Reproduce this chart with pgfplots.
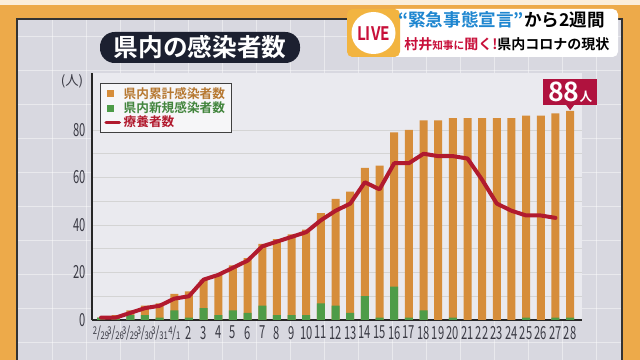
\documentclass[border=0pt]{standalone}
\usepackage{fontspec}
\setmainfont{Noto Sans CJK JP}[BoldFont={Noto Sans CJK JP Bold}]
\usepackage{graphicx}
\usepackage{pgfplots}
\usepackage{pgfplotstable}
\pgfplotsset{compat=1.18}
\definecolor{bgorange}{HTML}{EDAA4A}
\definecolor{panel}{HTML}{D8D8E0}
\definecolor{plotbg}{HTML}{EAEAEF}
\definecolor{barorange}{HTML}{D68D3A}
\definecolor{bargreen}{HTML}{4E9C48}
\definecolor{linered}{HTML}{B11A2E}
\definecolor{navy}{HTML}{1C2030}
\definecolor{crimson}{HTML}{B0123E}
\definecolor{quoteblue}{HTML}{1E86D0}
\definecolor{bannerred}{HTML}{C8103A}
\definecolor{livecap}{HTML}{F2B440}
\definecolor{ticktext}{HTML}{3A3A44}
\newcommand\cn[1]{\scalebox{0.62}[1]{\fontsize{13.5}{14}\selectfont #1}}
\newcommand\dt[2]{\scalebox{0.72}[1]{\raisebox{2.5pt}{\fontsize{8}{8}\selectfont #1}\kern-0.3pt{\fontsize{11}{11}\selectfont /}\kern-0.3pt\raisebox{-1.5pt}{\fontsize{8}{8}\selectfont #2}}}

\pgfplotstableread{
x cum new
0 1 1
1 2 1
2 4 2
3 6 2
4 7 1
5 11 4
6 12 1
7 17 5
8 19 2
9 23 4
10 26 3
11 32 6
12 34 2
13 36 2
14 38 2
15 45 7
16 51 6
17 54 3
18 64 10
19 65 1
20 79 14
21 80 1
22 84 4
23 84 0
24 85 1
25 85 0
26 85 0
27 85 0
28 85 0
29 86 1
30 86 0
31 87 1
32 88 1
}\cases

\pgfplotstableread{
x care
0 1
1 1
2 3
3 5
4 6
5 9
6 10
7 17
8 19
9 22
10 25
11 31
12 33
13 35
14 37
15 42
16 46
17 49
18 58
19 55
20 66
21 66
22 70
23 69
24 69
25 68
26 59
27 49
28 46
29 44
30 44
31 43
}\care

\begin{document}
\begin{tikzpicture}
\useasboundingbox (0,0) rectangle (480pt,-270pt);
\clip (0,0) rectangle (480pt,-270pt);
\begin{scope}[x=0.75pt,y=-0.75pt]
  \fill[bgorange] (0,0) rectangle (640,360);
  \fill[white!80!bgorange] (0,0) rectangle (640,5);
  \filldraw[fill=panel, draw=black!80, line width=1.5pt] (17,19) rectangle (622,370);
  \begin{scope}
    \clip (18,20) rectangle (621,369);
    \foreach \gx in {52,86,...,620} \draw[white, opacity=0.45, line width=0.5pt] (\gx,20) -- (\gx,369);
    \foreach \gy in {36,70,...,369} \draw[white, opacity=0.45, line width=0.5pt] (18,\gy) -- (621,\gy);
  \end{scope}
  % title
  \fill[navy, rounded corners=11pt] (100,32) rectangle (300,63);
  \node[white, font=\bfseries\fontsize{18.5}{20}\selectfont] at (200,47.5) {県内の感染者数};
  \node[ticktext, font=\fontsize{10}{10}\selectfont] at (72,81) {(人)};
  % banner
  \fill[white, rounded corners=4pt] (390,9) rectangle (618,57);
  \fill[livecap, rounded corners=4pt] (347,9) rectangle (400,57);
  \fill[white] (373.5,33) ellipse [x radius=22, y radius=21];
  \node[bannerred, font=\bfseries\fontsize{14}{14}\selectfont] at (373.5,34) {\scalebox{0.82}[1]{LIVE}};
  \node[anchor=west, inner sep=0pt, font=\bfseries\fontsize{13.2}{14}\selectfont] at (398,20) {\textcolor{quoteblue}{“緊急事態宣言”}から2週間};
  \node[anchor=west, inner sep=0pt, font=\bfseries\fontsize{10.5}{12}\selectfont] at (404,44) {\textcolor{bannerred}{村井{\fontsize{8}{9}\selectfont 知事に}聞く!}県内コロナの現状};
\end{scope}

\begin{axis}[
  at={(69pt,-240pt)}, anchor=south west,
  width=367.5pt, height=185.25pt, scale only axis,
  clip mode=individual,
  xmin=-0.614, xmax=32.81, ymin=0, ymax=104,
  axis background/.style={fill=plotbg},
  axis x line*=bottom, axis y line*=left,
  axis line style={-, line width=1.6pt, color=black!85},
  xtick={0,...,32},
  xticklabels={\dt{2}{29},\dt{3}{26},\dt{3}{29},\dt{3}{30},\dt{3}{31},\dt{4}{1},\cn{2},\cn{3},\cn{4},\cn{5},\cn{6},\cn{7},\cn{8},\cn{9},\cn{10},\cn{11},\cn{12},\cn{13},\cn{14},\cn{15},\cn{16},\cn{17},\cn{18},\cn{19},\cn{20},\cn{21},\cn{22},\cn{23},\cn{24},\cn{25},\cn{26},\cn{27},\cn{28}},
  ytick={0,20,40,60,80},
  yticklabels={\cn{0},\cn{20},\cn{40},\cn{60},\cn{80}},
  minor ytick={10,30,50,70},
  ymajorgrids, yminorgrids,
  major grid style={draw=black!17, line width=0.6pt},
  minor grid style={draw=black!17, line width=0.6pt},
  major tick length=0pt, minor tick length=0pt,
  tick label style={color=ticktext},
  xticklabel style={yshift=-1pt},
  yticklabel style={xshift=-1pt},
  legend style={at={(axis description cs:0.016,0.96)}, anchor=north west,
    fill=white!55!plotbg, draw=black!75, line width=0.8pt,
    font=\bfseries\fontsize{9.5}{11}\selectfont, row sep=-3pt,
    inner xsep=3pt, inner ysep=1pt},
  legend cell align=left,
]
\addplot[ybar, bar width=6pt, bar shift=0pt, fill=barorange, draw=none,
  legend image code/.code={\fill[barorange] (0pt,-2.6pt) rectangle (5.2pt,2.6pt);}]
  table[x=x,y=cum] {\cases};
\addlegendentry{\textcolor{barorange!85!black}{県内累計感染者数}}
\addplot[ybar, bar width=6pt, bar shift=0pt, fill=bargreen, draw=none,
  legend image code/.code={\fill[bargreen] (0pt,-2.6pt) rectangle (5.2pt,2.6pt);}]
  table[x=x,y=new] {\cases};
\addlegendentry{\textcolor{bargreen!85!black}{県内新規感染者数}}
\addplot[linered, line width=3pt, line join=round, line cap=round, mark=none,
  legend image code/.code={\draw[linered, line width=2.5pt] (-1pt,0pt) -- (9pt,0pt);}]
  table[x=x,y=care] {\care};
\addlegendentry{\textcolor{linered}{療養者数}}
\node[fill=crimson, text=white, inner sep=0pt, minimum width=40.5pt, minimum height=19.5pt,
  anchor=south, yshift=4.5pt] (lab) at (axis cs:32,88)
  {\bfseries\fontsize{20}{20}\selectfont 88\fontsize{9.5}{10}\selectfont 人};
\fill[crimson] ([xshift=-3pt]lab.south) -- ([xshift=3pt]lab.south) -- ([yshift=-4pt]lab.south) -- cycle;
\end{axis}
\end{tikzpicture}
\end{document}
